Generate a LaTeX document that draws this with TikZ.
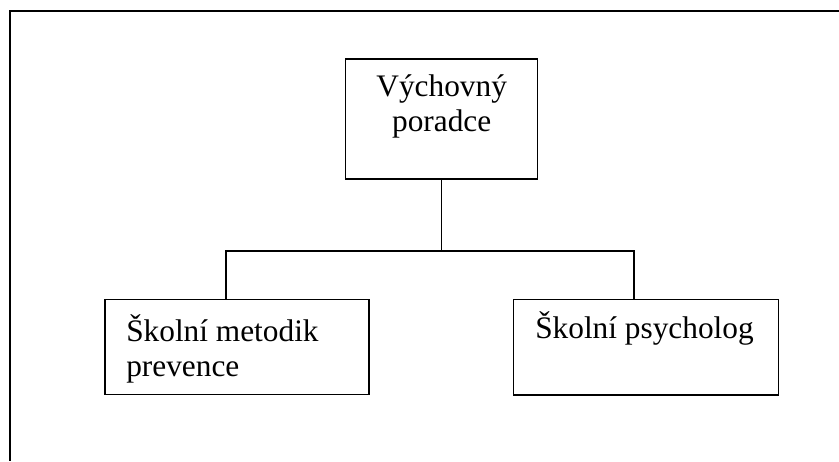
\documentclass[tikz,border=0pt]{standalone}
\usepackage{fontspec}
\setmainfont{Liberation Serif}
\begin{document}
\begin{tikzpicture}[x=0.75pt,y=-0.75pt,
  box/.style={draw,line width=1pt,inner sep=0pt,rectangle},
  txt/.style={inner sep=0pt,font=\fontsize{23.5}{26.6}\selectfont},
  conn/.style={line width=1pt},
  frame/.style={line width=1.5pt}]
\useasboundingbox (0,0) rectangle (839,461);
\draw[frame] (839,10.8) -- (10,10.8) -- (10,461);
% boxes
\node[box,minimum width=192pt*0.75,minimum height=120pt*0.75] (top) at (441.7,119) {};
\node[box,minimum width=264.3pt*0.75,minimum height=95pt*0.75] (left) at (237,346.8) {};
\node[box,minimum width=265pt*0.75,minimum height=95.7pt*0.75] (right) at (645.8,347.2) {};
% texts (base anchor = baseline of the last line)
\node[txt,anchor=base,align=center] (ttop) at (441.7,131.8) {Výchovný\\poradce};
\node[txt,anchor=base west,align=left] (tleft) at (126,376.6) {Školní metodik\\prevence};
\node[txt,anchor=base west] (tright) at (535,338.5) {Školní psycholog};
% connectors
\coordinate (jl) at (226,251);
\coordinate (jr) at (634,251);
\draw[conn] (top.south) -- (top.south |- jl);
\draw[conn] (left.north -| jl) -- (jl) -- (jr) -- (right.north -| jr);
\end{tikzpicture}
\end{document}
